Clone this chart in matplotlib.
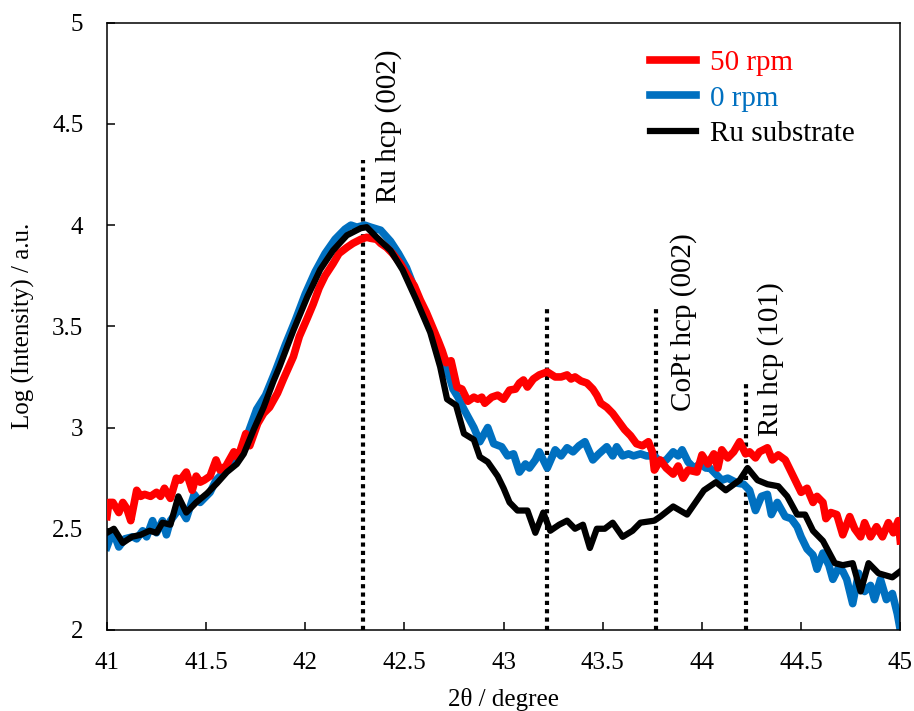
import matplotlib
matplotlib.use("Agg")
import matplotlib.pyplot as plt
from matplotlib.ticker import FuncFormatter, MultipleLocator

plt.rcParams['font.family'] = ['Liberation Serif', 'DejaVu Serif']

# 50 rpm (red)
x_50 = [41.00, 41.01, 41.03, 41.06, 41.08, 41.10, 41.12, 41.15, 41.17, 41.19,
        41.22, 41.25, 41.27, 41.29, 41.32, 41.35, 41.37, 41.40, 41.43, 41.45,
        41.47, 41.49, 41.52, 41.55, 41.57, 41.60, 41.64, 41.66, 41.70, 41.72,
        41.76, 41.79, 41.82, 41.86, 41.89, 41.94, 41.97, 42.01, 42.04, 42.07,
        42.10, 42.14, 42.17, 42.21, 42.24, 42.28, 42.31, 42.33, 42.36, 42.38,
        42.41, 42.44, 42.48, 42.51, 42.55, 42.58, 42.61, 42.64, 42.67, 42.69,
        42.71, 42.735, 42.765, 42.79, 42.82, 42.85, 42.87, 42.89, 42.905, 42.94,
        42.97, 43.00, 43.03, 43.06, 43.08, 43.10, 43.12, 43.15, 43.18, 43.22,
        43.26, 43.29, 43.32, 43.34, 43.36, 43.39, 43.42, 43.45, 43.47, 43.49,
        43.52, 43.55, 43.58, 43.61, 43.64, 43.67, 43.70, 43.73, 43.75, 43.76,
        43.79, 43.82, 43.855, 43.88, 43.905, 43.93, 43.975, 44.00, 44.03, 44.06,
        44.08, 44.10, 44.13, 44.16, 44.19, 44.22, 44.24, 44.27, 44.29, 44.33,
        44.355, 44.385, 44.42, 44.45, 44.47, 44.50, 44.53, 44.56, 44.58, 44.61,
        44.625, 44.65, 44.68, 44.71, 44.745, 44.77, 44.80, 44.82, 44.85, 44.88,
        44.91, 44.94, 44.965, 44.99, 45.00]
y_50 = [2.56, 2.63, 2.63, 2.58, 2.63, 2.60, 2.54, 2.69, 2.66, 2.67,
        2.66, 2.68, 2.66, 2.70, 2.65, 2.75, 2.74, 2.78, 2.69, 2.76,
        2.73, 2.74, 2.76, 2.84, 2.79, 2.81, 2.88, 2.85, 2.97, 2.91,
        3.02, 3.07, 3.10, 3.17, 3.24, 3.35, 3.45, 3.54, 3.61, 3.69,
        3.75, 3.81, 3.86, 3.89, 3.91, 3.93, 3.94, 3.935, 3.93, 3.91,
        3.89, 3.86, 3.81, 3.76, 3.70, 3.63, 3.57, 3.50, 3.43, 3.38,
        3.32, 3.33, 3.20, 3.19, 3.13, 3.15, 3.14, 3.15, 3.12, 3.15,
        3.16, 3.14, 3.185, 3.19, 3.22, 3.235, 3.20, 3.24, 3.26, 3.275,
        3.25, 3.25, 3.26, 3.24, 3.25, 3.23, 3.22, 3.19, 3.16, 3.12,
        3.10, 3.07, 3.03, 2.99, 2.96, 2.92, 2.91, 2.93, 2.88, 2.79,
        2.84, 2.80, 2.77, 2.81, 2.75, 2.79, 2.78, 2.865, 2.82, 2.87,
        2.80, 2.89, 2.85, 2.88, 2.93, 2.87, 2.88, 2.85, 2.88, 2.90,
        2.84, 2.865, 2.84, 2.78, 2.74, 2.68, 2.70, 2.63, 2.66, 2.63,
        2.55, 2.58, 2.57, 2.47, 2.56, 2.50, 2.46, 2.53, 2.46, 2.51,
        2.46, 2.53, 2.48, 2.54, 2.44]

# 0 rpm (blue)
x_0 = [41.00, 41.03, 41.06, 41.09, 41.13, 41.15, 41.18, 41.20, 41.23, 41.25,
       41.28, 41.30, 41.32, 41.35, 41.37, 41.40, 41.44, 41.47, 41.52, 41.55,
       41.60, 41.655, 41.705, 41.755, 41.80, 41.85, 41.90, 41.95, 42.00, 42.05,
       42.10, 42.15, 42.20, 42.23, 42.26, 42.30, 42.33, 42.38, 42.43, 42.47,
       42.51, 42.55, 42.59, 42.63, 42.66, 42.70, 42.73, 42.745, 42.77, 42.80,
       42.85, 42.88, 42.92, 42.95, 42.99, 43.02, 43.05, 43.08, 43.11, 43.13,
       43.16, 43.18, 43.22, 43.26, 43.29, 43.32, 43.35, 43.38, 43.41, 43.45,
       43.48, 43.52, 43.55, 43.57, 43.60, 43.63, 43.655, 43.69, 43.72, 43.76,
       43.79, 43.82, 43.855, 43.88, 43.90, 43.93, 43.96, 43.99, 44.02, 44.04,
       44.07, 44.10, 44.13, 44.18, 44.21, 44.24, 44.27, 44.30, 44.33, 44.35,
       44.38, 44.42, 44.45, 44.48, 44.50, 44.53, 44.56, 44.58, 44.61, 44.64,
       44.66, 44.69, 44.71, 44.73, 44.76, 44.79, 44.82, 44.85, 44.87, 44.90,
       44.93, 44.96, 44.985, 45.00]
y_0 = [2.41, 2.49, 2.41, 2.45, 2.46, 2.45, 2.49, 2.46, 2.54, 2.48,
       2.54, 2.47, 2.54, 2.58, 2.60, 2.55, 2.67, 2.63, 2.68, 2.74,
       2.79, 2.84, 2.955, 3.09, 3.16, 3.28, 3.41, 3.53, 3.66, 3.77,
       3.86, 3.93, 3.98, 4.00, 3.99, 4.00, 3.99, 3.975, 3.92, 3.86,
       3.79, 3.69, 3.58, 3.49, 3.40, 3.31, 3.24, 3.19, 3.15, 3.09,
       3.00, 2.93, 3.00, 2.92, 2.905, 2.86, 2.87, 2.78, 2.82, 2.80,
       2.84, 2.88, 2.80, 2.89, 2.86, 2.90, 2.88, 2.91, 2.93, 2.84,
       2.87, 2.905, 2.86, 2.905, 2.86, 2.87, 2.86, 2.87, 2.86, 2.86,
       2.83, 2.84, 2.88, 2.86, 2.89, 2.83, 2.80, 2.82, 2.80, 2.80,
       2.77, 2.74, 2.75, 2.725, 2.72, 2.69, 2.59, 2.66, 2.67, 2.57,
       2.63, 2.56, 2.55, 2.51, 2.46, 2.40, 2.37, 2.30, 2.38, 2.32,
       2.25, 2.31, 2.29, 2.25, 2.13, 2.28, 2.19, 2.22, 2.15, 2.25,
       2.15, 2.18, 2.08, 2.00]

# Ru substrate (black)
x_ru = [41.00, 41.035, 41.08, 41.125, 41.17, 41.215, 41.25, 41.28, 41.32, 41.36,
        41.40, 41.45, 41.505, 41.555, 41.605, 41.655, 41.69, 41.74, 41.79, 41.84,
        41.87, 41.94, 42.01, 42.075, 42.14, 42.21, 42.28, 42.31, 42.36, 42.43,
        42.49, 42.56, 42.63, 42.68, 42.715, 42.76, 42.80, 42.85, 42.88, 42.92,
        42.97, 43.00, 43.03, 43.07, 43.12, 43.16, 43.20, 43.235, 43.28, 43.32,
        43.36, 43.40, 43.435, 43.47, 43.51, 43.55, 43.60, 43.65, 43.69, 43.76,
        43.79, 43.855, 43.925, 44.01, 44.07, 44.12, 44.19, 44.23, 44.28, 44.33,
        44.385, 44.43, 44.48, 44.52, 44.56, 44.61, 44.67, 44.71, 44.76, 44.80,
        44.84, 44.89, 44.96, 45.00]
y_ru = [2.48, 2.50, 2.43, 2.46, 2.47, 2.49, 2.48, 2.53, 2.52, 2.66,
        2.58, 2.63, 2.675, 2.725, 2.78, 2.82, 2.87, 2.99, 3.10, 3.23,
        3.30, 3.48, 3.645, 3.78, 3.875, 3.95, 3.985, 3.99, 3.94, 3.875,
        3.78, 3.63, 3.47, 3.30, 3.14, 3.11, 2.97, 2.94, 2.855, 2.83,
        2.76, 2.70, 2.63, 2.59, 2.59, 2.48, 2.58, 2.49, 2.52, 2.54,
        2.50, 2.52, 2.405, 2.50, 2.50, 2.53, 2.46, 2.49, 2.53, 2.54,
        2.56, 2.61, 2.57, 2.69, 2.73, 2.69, 2.74, 2.80, 2.74, 2.72,
        2.71, 2.66, 2.57, 2.57, 2.49, 2.44, 2.33, 2.32, 2.33, 2.19,
        2.33, 2.28, 2.26, 2.29]

# reference peak positions
peak_x = [42.29, 43.22, 43.77, 44.22]
peak_top = [4.32, 3.60, 3.60, 3.22]
peak_labels = ['Ru hcp (002)', 'CoPt hcp (002)', 'Ru hcp (101)']
label_x = [42.42, 43.905, 44.345]
label_y = [4.49, 3.52, 3.34]

fig = plt.figure(figsize=(9.14, 7.11), dpi=100)
ax = fig.add_axes([0.117, 0.114, 0.868, 0.854])

ax.vlines(peak_x, 2, peak_top, colors='black', linestyles=(0, (1, 1)), linewidth=3, zorder=1)

ax.plot(x_0, y_0, color='#0070C0', linewidth=5.5, label='0 rpm', zorder=2)
ax.plot(x_50, y_50, color='#FF0000', linewidth=5.5, label='50 rpm', zorder=3)
ax.plot(x_ru, y_ru, color='black', linewidth=4.5, label='Ru substrate', zorder=4)

for txt, tx, ty in zip(peak_labels, label_x, label_y):
    ax.text(tx, ty, txt, rotation=90, ha='center', va='center', fontsize=21)

ax.set_xlim(41, 45)
ax.set_ylim(2, 5)
ax.xaxis.set_major_locator(MultipleLocator(0.5))
ax.yaxis.set_major_locator(MultipleLocator(0.5))
fmt = FuncFormatter(lambda v, p: '%g' % v)
ax.xaxis.set_major_formatter(fmt)
ax.yaxis.set_major_formatter(fmt)
ax.tick_params(direction='in', length=6, width=1.1, labelsize=18)
ax.tick_params(axis='x', pad=16)
ax.tick_params(axis='y', pad=17)
for s in ax.spines.values():
    s.set_linewidth(1.1)

ax.set_xlabel('2θ / degree', fontsize=18, labelpad=10)
ax.set_ylabel('Log (Intensity) / a.u.', fontsize=18, labelpad=12)

handles, labels = ax.get_legend_handles_labels()
order = [1, 0, 2]
ax.legend([handles[i] for i in order], [labels[i] for i in order],
          loc='upper left', bbox_to_anchor=(0.685, 0.955), frameon=False,
          fontsize=21, labelcolor='linecolor', handlelength=1.55,
          handletextpad=0.5, borderpad=0, borderaxespad=0, labelspacing=0.3)

fig.savefig('out.png', dpi=100)
